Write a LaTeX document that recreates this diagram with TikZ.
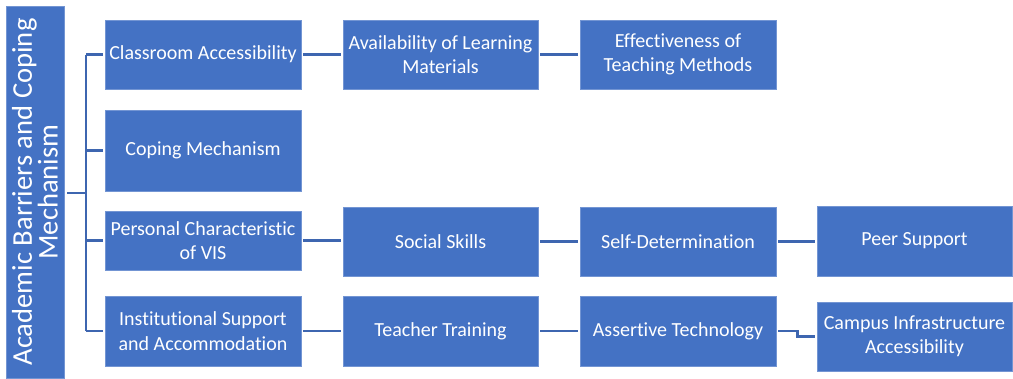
\documentclass[tikz,border=0pt]{standalone}
\usepackage{fontspec}
\setmainfont{Carlito}[Ligatures={NoCommon}]
\begin{document}
\definecolor{boxblue}{HTML}{4472C4}
\definecolor{lineblue}{HTML}{3E66B0}
\begin{tikzpicture}[x=1pt,y=-1pt,
  topic/.style={rectangle, fill=boxblue, draw=boxblue!75!white, line width=0.6pt,
    text=white, align=center, inner sep=2pt, minimum width=195,
    font=\fontsize{20}{24.5}\selectfont},
  conn/.style={draw=lineblue, line width=2.6pt, shorten <=2pt, shorten >=2pt},
  tree/.style={draw=lineblue, line width=2.6pt}]
\useasboundingbox (0,0) rectangle (1013,378);

% main title bar, turned a quarter left (its south anchor is the right side)
\node[rectangle, fill=boxblue, draw=boxblue!75!white, line width=0.6pt, text=white,
  rotate=90, minimum width=372, minimum height=58, inner sep=0pt, align=center,
  font=\fontsize{28.6}{23}\selectfont] (bar) at (35,192)
  {Academic Barriers and Coping\\Mechanism};

% first column
\node[topic, minimum width=196, minimum height=69] (cls) at (203,54.5) {Classroom Accessibility};
\node[topic, minimum width=196, minimum height=81] (cop) at (203,150.5) {Coping Mechanism};
\node[topic, minimum width=196, minimum height=59] (per) at (203,240.5) {Personal Characteristic\\of VIS};
\node[topic, minimum width=196, minimum height=70] (ins) at (203,331) {Institutional Support\\and Accommodation};

% second column
\node[topic, minimum height=69] (ava) at (440.5,54.5) {Availability of Learning\\Materials};
\node[topic, minimum height=69] (soc) at (440.5,241.5) {Social Skills};
\node[topic, minimum height=70] (tea) at (440.5,331) {Teacher Training};

% third column
\node[topic, minimum width=196, minimum height=69] (eff) at (678,54.5) {Effectiveness of\\Teaching Methods};
\node[topic, minimum width=196, minimum height=69] (sel) at (678,241.5) {Self-Determination};
\node[topic, minimum width=196, minimum height=70] (ass) at (678,331) {Assertive Technology};

% fourth column
\node[topic, minimum height=70] (pee) at (914.5,241) {Peer Support};
\node[topic, minimum height=69] (cam) at (914.5,336.5) {Campus Infrastructure\\Accessibility};

% tree from the title bar to the first column
\coordinate (trunk) at (86,193);
\draw[tree, shorten <=3pt] (bar.south |- trunk) -- (trunk);
\draw[tree] (trunk |- cls.west) -- (trunk |- ins.west);
\foreach \n in {cls,cop,per,ins}
  \draw[tree, shorten >=2pt] (trunk |- \n.west) -- (\n.west);

% row links
\draw[conn] (cls.east) -- (ava.west);
\draw[conn] (ava.east) -- (eff.west);
\draw[conn] (per.east) -- (per.east -| soc.west);
\draw[conn] (soc.east) -- (sel.west);
\draw[conn] (sel.east) -- (sel.east -| pee.west);
\draw[conn] (ins.east) -- (tea.west);
\draw[conn] (tea.east) -- (ass.west);
\draw[conn] (ass.east) -- ++(21,0) |- (cam.west);
\end{tikzpicture}
\end{document}
